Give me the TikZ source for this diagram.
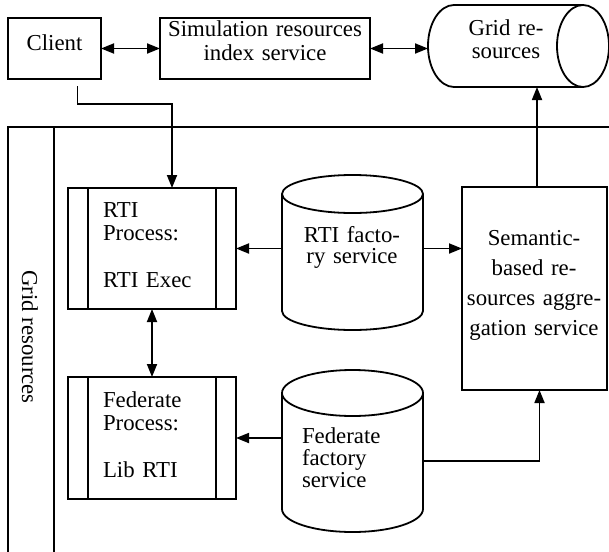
\documentclass[tikz,border=0pt]{standalone}
\usepackage{fontspec}
\setmainfont{Liberation Serif}
\usetikzlibrary{arrows.meta,calc}
\begin{document}
\begin{tikzpicture}[x=1pt,y=-1pt,
  line width=1.8pt,
  every node/.style={inner sep=0pt, outer sep=0pt},
  txt/.style={font=\fontsize{22.8}{23.5}\selectfont},
  box/.style={draw, rectangle},
  ghost/.style={rectangle},
  link/.style={-{Triangle[length=13pt,width=10pt]}},
  duplex/.style={{Triangle[length=13pt,width=10pt]}-{Triangle[length=13pt,width=10pt]}},
]
\useasboundingbox (0,0) rectangle (609,551);

% ---- top row ----
\node[box, minimum width=93pt, minimum height=61pt] (client) at (54.5,48.5) {};
\node[txt, anchor=base] (clienttxt) at (54.5,51) {Client};

\node[box, minimum width=210pt, minimum height=61pt] (index) at (265,48.5) {};
\node[txt, anchor=base, text width=210pt, align=center] (indextxt) at (265,37)
  {Simulation resources\\index service};

% horizontal cylinder
\node[ghost, minimum width=181pt, minimum height=82pt] (grid) at (518.5,46) {};
\draw (583,46) ellipse [x radius=26, y radius=41];
\draw (583,5) -- (454,5) arc[start angle=270, end angle=90, x radius=26, y radius=41] -- (583,87);
\node[txt, anchor=base, text width=100pt, align=center] (gridtxt) at (506,35) {Grid re-\\sources};

\draw[duplex] (client.east) -- (index.west);
\draw[duplex] (index.east) -- (index.east -| grid.west);

% ---- grid resources frame ----
\draw (615,127) -- (8,127) -- (8,560);
\draw (54,127) -- (54,560);
\node[txt, rotate=-90] (gridlbl) at (30,337) {Grid resources};

% ---- process boxes ----
\node[box, minimum width=168pt, minimum height=121pt] (rti) at (152,248.5) {};
\draw ([xshift=20pt]rti.north west) -- ([xshift=20pt]rti.south west);
\draw ([xshift=-20pt]rti.north east) -- ([xshift=-20pt]rti.south east);
\node[txt, anchor=base west, text width=110pt, align=left] (rtitxt) at (103,217)
  {RTI\\Process:\\[23.5pt]RTI Exec};

\node[box, minimum width=168pt, minimum height=122pt] (fed) at (152,438) {};
\draw ([xshift=20pt]fed.north west) -- ([xshift=20pt]fed.south west);
\draw ([xshift=-20pt]fed.north east) -- ([xshift=-20pt]fed.south east);
\node[txt, anchor=base west, text width=110pt, align=left] (fedtxt) at (103,407)
  {Federate\\Process:\\[23.5pt]Lib RTI};

% ---- factory cylinders ----
\node[ghost, minimum width=141pt, minimum height=155pt] (rtifac) at (352.5,252.5) {};
\draw (352.5,194) ellipse [x radius=70.5, y radius=19];
\draw (282,194) -- (282,311) arc[start angle=180, end angle=0, x radius=70.5, y radius=19] -- (423,194);
\node[txt, font=\fontsize{22.8}{21.5}\selectfont, anchor=base, text width=140pt, align=center]
  (rtifactxt) at (352,242) {RTI facto-\\ry service};

\node[ghost, minimum width=141pt, minimum height=162pt] (fedfac) at (352.5,451) {};
\draw (352.5,393) ellipse [x radius=70.5, y radius=23];
\draw (282,393) -- (282,509) arc[start angle=180, end angle=0, x radius=70.5, y radius=23] -- (423,393);
\node[txt, font=\fontsize{22.8}{22}\selectfont, anchor=base west, text width=110pt, align=left]
  (fedfactxt) at (302,443) {Federate\\factory\\service};

% ---- aggregation service ----
\node[box, minimum width=145pt, minimum height=203pt] (sem) at (534.5,288.5) {};
\node[txt, font=\fontsize{22.8}{30.3}\selectfont, anchor=base, text width=145pt, align=center]
  (semtxt) at (534,245) {Semantic-\\based re-\\sources aggre-\\gation service};

% ---- connectors ----
\coordinate (feed) at (77.5,86);
\coordinate (bend) at (172,104);
\draw[link] (feed) |- (bend) -- (bend |- rti.north);
\draw[duplex] (rti.south) -- (fed.north);
\draw[link] (rtifac.west |- rti.east) -- (rti.east);
\draw[link] (rtifac.east |- rti.east) -- (sem.west |- rti.east);
\draw[link] (fedfac.west |- fed.east) -- (fed.east);
\draw[link] ([yshift=-10pt]fedfac.east) -| ([xshift=5pt]sem.south);
\draw[link] ([xshift=2.5pt]sem.north) -- ([xshift=2.5pt]sem.north |- grid.south);
\end{tikzpicture}
\end{document}
